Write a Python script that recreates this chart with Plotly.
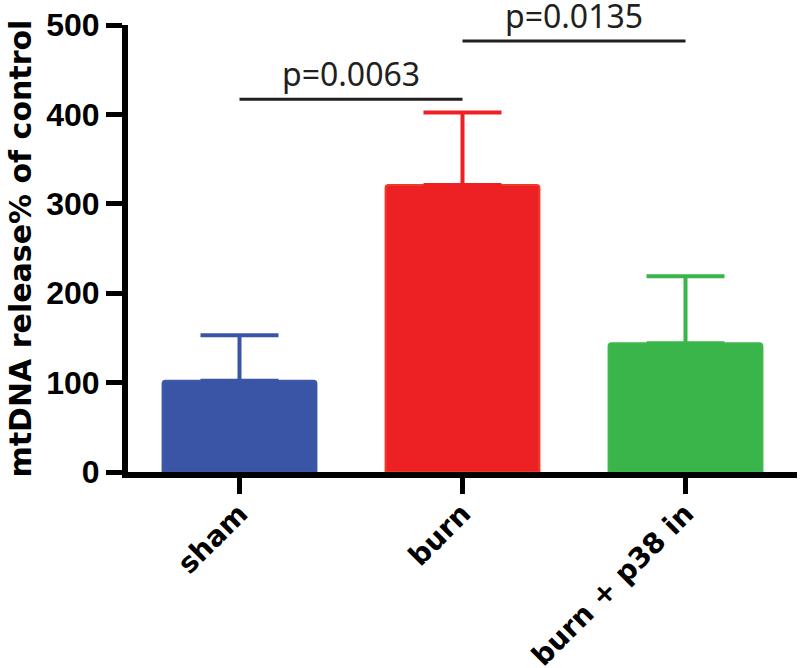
import plotly.graph_objects as go

categories = ["sham", "burn", "burn + p38 in"]
means = [102, 321, 144]
err_up = [51, 81, 75]
bar_colors = ["#3A55A5", "#ED2024", "#39B54A"]
bar_edges = ["#3E59A8", "#EF3B2C", "#3EB74E"]

sig_pairs = [(0, 1), (1, 2)]
sig_y = [417, 482]
sig_labels = ["p=0.0063", "p=0.0135"]

y_ticks = [0, 100, 200, 300, 400, 500]
y_title = "mtDNA release% of control"

fig = go.Figure()
for i, cat in enumerate(categories):
    fig.add_trace(go.Bar(
        x=[i], y=[means[i]], width=0.69,
        marker=dict(color=bar_colors[i], line=dict(color=bar_edges[i], width=2)),
        error_y=dict(type="data", symmetric=False, array=[err_up[i]], arrayminus=[0],
                     color=bar_colors[i], thickness=4, width=39),
        showlegend=False, name=cat,
    ))

ink = "#231F20"
for (a, b), yv, lab in zip(sig_pairs, sig_y, sig_labels):
    fig.add_shape(type="line", xref="x", yref="y", x0=a, x1=b, y0=yv, y1=yv,
                  line=dict(color=ink, width=3))
    fig.add_annotation(x=(a + b) / 2, y=yv, xref="x", yref="y", text=lab,
                       showarrow=False, yanchor="bottom", yshift=2,
                       font=dict(family="Noto Sans", size=32, color=ink))

W, H = 800, 668
L, R, T, B = 128, 3, 25, 196
plot_w = W - L - R

fig.add_annotation(
    xref="paper", yref="paper", x=(20 - L) / plot_w, y=0.5,
    text=y_title, textangle=-90, showarrow=False,
    xanchor="center", yanchor="middle",
    font=dict(family="DejaVu Sans", size=30, color="black", weight="bold"),
)

fig.update_layout(
    width=W, height=H,
    margin=dict(l=L, r=R, t=T, b=B),
    plot_bgcolor="white", paper_bgcolor="white",
    barmode="overlay", barcornerradius=3,
    font=dict(family="Liberation Sans", color="black"),
)
fig.update_xaxes(
    range=[-0.5, 2.5], tickmode="array", tickvals=list(range(len(categories))),
    ticktext=categories, tickangle=-45, automargin=False, ticklabelstandoff=-8,
    tickfont=dict(family="DejaVu Sans", size=28, color="black", weight="bold"),
    showline=True, linecolor="black", linewidth=6,
    ticks="outside", ticklen=16, tickwidth=5, tickcolor="black",
    showgrid=False, zeroline=False,
)
fig.update_yaxes(
    range=[0, 500], tickmode="array", tickvals=y_ticks, automargin=False,
    ticklabeloverflow="allow",
    tickfont=dict(family="Liberation Sans", size=32, color="black", weight="bold"),
    showline=True, linecolor="black", linewidth=6,
    ticks="outside", ticklen=16, tickwidth=5, tickcolor="black",
    showgrid=False, zeroline=False,
)

fig.write_html(
    "out.html",
    config={"displayModeBar": False},
    post_script="document.body.style.margin='0';document.body.style.overflow='hidden';",
)
